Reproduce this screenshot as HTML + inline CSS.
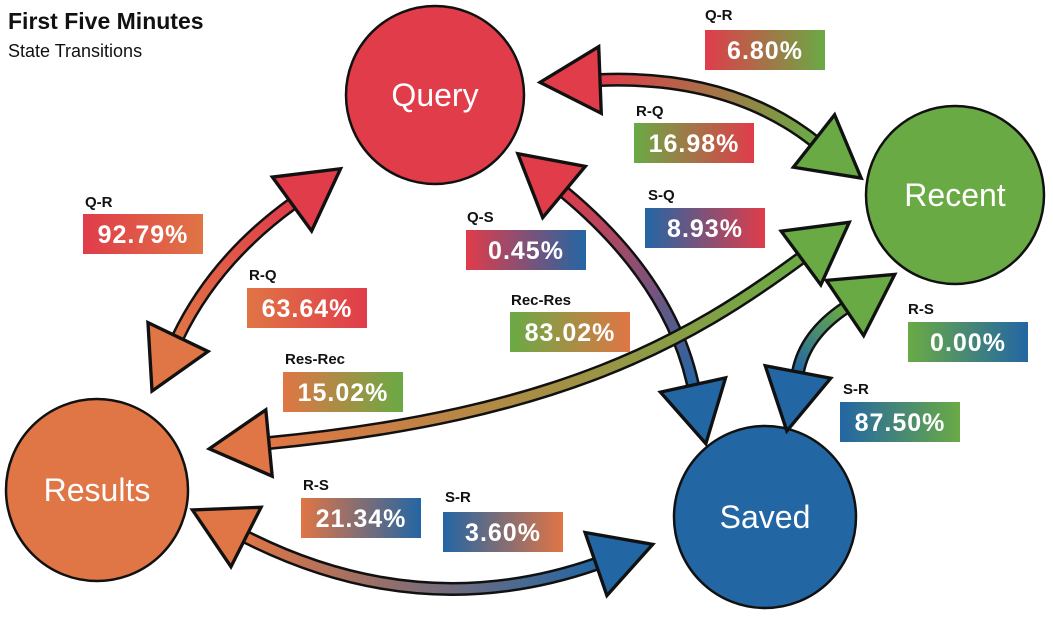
<!DOCTYPE html>
<html><head><meta charset="utf-8"><style>
body{margin:0;background:#fff;width:1053px;height:619px;overflow:hidden;font-family:"Liberation Sans",sans-serif}
</style></head><body>
<svg width="1053" height="619" viewBox="0 0 1053 619" xmlns="http://www.w3.org/2000/svg" font-family="Liberation Sans, sans-serif">
<defs>
<marker id="mR" markerUnits="userSpaceOnUse" markerWidth="80" markerHeight="80" refX="0" refY="0" viewBox="-5 -30 60 60" orient="auto-start-reverse" overflow="visible"><path d="M0,-25 L45,0 L0,25 z" fill="#e03c4a" stroke="#111" stroke-width="2.5"/></marker>
<marker id="mG" markerUnits="userSpaceOnUse" markerWidth="80" markerHeight="80" refX="0" refY="0" viewBox="-5 -30 60 60" orient="auto-start-reverse" overflow="visible"><path d="M0,-25 L45,0 L0,25 z" fill="#6aaa45" stroke="#111" stroke-width="2.5"/></marker>
<marker id="mO" markerUnits="userSpaceOnUse" markerWidth="80" markerHeight="80" refX="0" refY="0" viewBox="-5 -30 60 60" orient="auto-start-reverse" overflow="visible"><path d="M0,-25 L45,0 L0,25 z" fill="#e07545" stroke="#111" stroke-width="2.5"/></marker>
<marker id="mB" markerUnits="userSpaceOnUse" markerWidth="80" markerHeight="80" refX="0" refY="0" viewBox="-5 -30 60 60" orient="auto-start-reverse" overflow="visible"><path d="M0,-25 L45,0 L0,25 z" fill="#2366a4" stroke="#111" stroke-width="2.5"/></marker>
<linearGradient id="g1" gradientUnits="userSpaceOnUse" x1="600" y1="80" x2="814" y2="141"><stop offset="0" stop-color="#e03c4a"/><stop offset="1" stop-color="#6aaa45"/></linearGradient>
<linearGradient id="g2" gradientUnits="userSpaceOnUse" x1="292" y1="204" x2="178" y2="337"><stop offset="0" stop-color="#e03c4a"/><stop offset="1" stop-color="#e07545"/></linearGradient>
<linearGradient id="g3" gradientUnits="userSpaceOnUse" x1="564" y1="192" x2="693" y2="385"><stop offset="0" stop-color="#e03c4a"/><stop offset="1" stop-color="#2366a4"/></linearGradient>
<linearGradient id="g4" gradientUnits="userSpaceOnUse" x1="801" y1="258" x2="269" y2="443"><stop offset="0" stop-color="#6aaa45"/><stop offset="1" stop-color="#e07545"/></linearGradient>
<linearGradient id="g5" gradientUnits="userSpaceOnUse" x1="845" y1="308" x2="798" y2="372"><stop offset="0" stop-color="#6aaa45"/><stop offset="1" stop-color="#2366a4"/></linearGradient>
<linearGradient id="g6" gradientUnits="userSpaceOnUse" x1="246" y1="537" x2="596" y2="564"><stop offset="0" stop-color="#e07545"/><stop offset="1" stop-color="#2366a4"/></linearGradient>
<linearGradient id="bRG"><stop offset="0" stop-color="#e03c4a"/><stop offset="1" stop-color="#6aaa45"/></linearGradient>
<linearGradient id="bGR"><stop offset="0" stop-color="#6aaa45"/><stop offset="1" stop-color="#e03c4a"/></linearGradient>
<linearGradient id="bBR"><stop offset="0" stop-color="#2366a4"/><stop offset="1" stop-color="#e03c4a"/></linearGradient>
<linearGradient id="bRB"><stop offset="0" stop-color="#e03c4a"/><stop offset="1" stop-color="#2366a4"/></linearGradient>
<linearGradient id="bGO"><stop offset="0" stop-color="#6aaa45"/><stop offset="1" stop-color="#e07545"/></linearGradient>
<linearGradient id="bRO"><stop offset="0" stop-color="#e03c4a"/><stop offset="1" stop-color="#e07545"/></linearGradient>
<linearGradient id="bOR"><stop offset="0" stop-color="#e07545"/><stop offset="1" stop-color="#e03c4a"/></linearGradient>
<linearGradient id="bOG"><stop offset="0" stop-color="#e07545"/><stop offset="1" stop-color="#6aaa45"/></linearGradient>
<linearGradient id="bGB"><stop offset="0" stop-color="#6aaa45"/><stop offset="1" stop-color="#2366a4"/></linearGradient>
<linearGradient id="bBG"><stop offset="0" stop-color="#2366a4"/><stop offset="1" stop-color="#6aaa45"/></linearGradient>
<linearGradient id="bOB"><stop offset="0" stop-color="#e07545"/><stop offset="1" stop-color="#2366a4"/></linearGradient>
<linearGradient id="bBO"><stop offset="0" stop-color="#2366a4"/><stop offset="1" stop-color="#e07545"/></linearGradient>
</defs>

<text x="8" y="29" font-size="23" font-weight="bold" fill="#111">First Five Minutes</text>
<text x="8" y="57" font-size="18" fill="#111">State Transitions</text>

<circle cx="435" cy="95" r="89" fill="#e03c4a" stroke="#111" stroke-width="2.5"/>
<circle cx="955" cy="195" r="89" fill="#6aaa45" stroke="#111" stroke-width="2.5"/>
<circle cx="97" cy="490" r="91" fill="#e07545" stroke="#111" stroke-width="2.5"/>
<circle cx="765" cy="517" r="91" fill="#2366a4" stroke="#111" stroke-width="2.5"/>
<g fill="#fff" font-size="32" text-anchor="middle">
<text x="435" y="106">Query</text>
<text x="955" y="206">Recent</text>
<text x="97" y="501">Results</text>
<text x="765" y="528">Saved</text>
</g>

<g fill="none">
<path d="M600,80 Q730,75 814,141" stroke="#111" stroke-width="14"/>
<path d="M600,80 Q730,75 814,141" stroke="url(#g1)" stroke-width="9" marker-start="url(#mR)" marker-end="url(#mG)"/>
<path d="M292,204 Q215,260 178,337" stroke="#111" stroke-width="14"/>
<path d="M292,204 Q215,260 178,337" stroke="url(#g2)" stroke-width="9" marker-start="url(#mR)" marker-end="url(#mO)"/>
<path d="M564,192 Q670,280 693,385" stroke="#111" stroke-width="14"/>
<path d="M564,192 Q670,280 693,385" stroke="url(#g3)" stroke-width="9" marker-start="url(#mR)" marker-end="url(#mB)"/>
<path d="M801,258 C690,340 560,415 269,443" stroke="#111" stroke-width="14"/>
<path d="M801,258 C690,340 560,415 269,443" stroke="url(#g4)" stroke-width="9" marker-start="url(#mG)" marker-end="url(#mO)"/>
<path d="M845,308 Q805,335 798,372" stroke="#111" stroke-width="14"/>
<path d="M845,308 Q805,335 798,372" stroke="url(#g5)" stroke-width="9" marker-start="url(#mG)" marker-end="url(#mB)"/>
<path d="M246,537 Q420,625 596,564" stroke="#111" stroke-width="14"/>
<path d="M246,537 Q420,625 596,564" stroke="url(#g6)" stroke-width="9" marker-start="url(#mO)" marker-end="url(#mB)"/>
</g>

<g font-weight="bold">
<g font-size="15" fill="#111">
<text x="705" y="20">Q-R</text>
<text x="636" y="116">R-Q</text>
<text x="648" y="200">S-Q</text>
<text x="467" y="222">Q-S</text>
<text x="511" y="305">Rec-Res</text>
<text x="85" y="207">Q-R</text>
<text x="249" y="280">R-Q</text>
<text x="285" y="364">Res-Rec</text>
<text x="908" y="314">R-S</text>
<text x="843" y="394">S-R</text>
<text x="303" y="490">R-S</text>
<text x="445" y="502">S-R</text>
</g>
<rect x="705" y="30" width="120" height="40" fill="url(#bRG)"/>
<rect x="634" y="123" width="120" height="40" fill="url(#bGR)"/>
<rect x="645" y="208" width="120" height="40" fill="url(#bBR)"/>
<rect x="466" y="230" width="120" height="40" fill="url(#bRB)"/>
<rect x="510" y="312" width="120" height="40" fill="url(#bGO)"/>
<rect x="83" y="214" width="120" height="40" fill="url(#bRO)"/>
<rect x="247" y="288" width="120" height="40" fill="url(#bOR)"/>
<rect x="283" y="372" width="120" height="40" fill="url(#bOG)"/>
<rect x="908" y="322" width="120" height="40" fill="url(#bGB)"/>
<rect x="840" y="402" width="120" height="40" fill="url(#bBG)"/>
<rect x="301" y="498" width="120" height="40" fill="url(#bOB)"/>
<rect x="443" y="512" width="120" height="40" fill="url(#bBO)"/>
<g font-size="25" fill="#fff" text-anchor="middle" letter-spacing="1">
<text x="765" y="59">6.80%</text>
<text x="694" y="152">16.98%</text>
<text x="705" y="237">8.93%</text>
<text x="526" y="259">0.45%</text>
<text x="570" y="341">83.02%</text>
<text x="143" y="243">92.79%</text>
<text x="307" y="317">63.64%</text>
<text x="343" y="401">15.02%</text>
<text x="968" y="351">0.00%</text>
<text x="900" y="431">87.50%</text>
<text x="361" y="527">21.34%</text>
<text x="503" y="541">3.60%</text>
</g>
</g>
</svg>
</body></html>
